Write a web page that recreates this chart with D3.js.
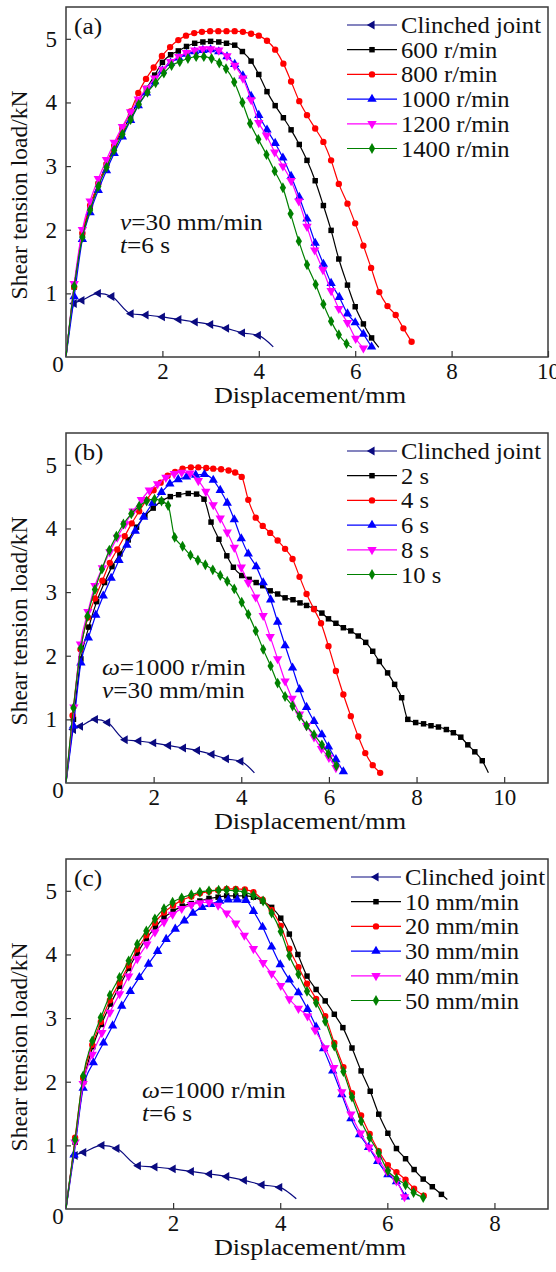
<!DOCTYPE html>
<html>
<head>
<meta charset="utf-8">
<script src="https://d3js.org/d3.v7.min.js"></script>
<style>
body { margin: 0; background: #fff; }
svg text { font-family: "Liberation Serif", "Times New Roman", serif; fill: #111; }
</style>
</head>
<body>
<div id="chart"></div>
<script>
// curves: [displacement mm, load kN]
var clinched = [[0,0.02],[0.17,0.84],[0.33,0.89],[0.67,1.0],[0.95,0.95],[1.35,0.68],[1.66,0.66],[2.0,0.63],[2.34,0.59],[2.68,0.55],[3.0,0.51],[3.33,0.45],[3.66,0.38],[3.99,0.34],[4.3,0.16]];

// (a) rotational speed
var a_600 = [[0,0],[0.17,1.1],[0.34,1.92],[0.5,2.36],[0.67,2.72],[0.84,3.02],[1.0,3.3],[1.17,3.55],[1.34,3.78],[1.5,4.02],[1.67,4.22],[1.84,4.43],[2.0,4.63],[2.17,4.75],[2.33,4.81],[2.5,4.88],[2.67,4.93],[2.84,4.95],[3.0,4.96],[3.17,4.95],[3.33,4.93],[3.5,4.9],[3.66,4.8],[3.84,4.65],[4.0,4.44],[4.17,4.17],[4.34,3.95],[4.51,3.76],[4.67,3.57],[4.84,3.34],[5.0,3.09],[5.17,2.77],[5.34,2.38],[5.5,1.99],[5.66,1.54],[5.84,1.13],[6.0,0.79],[6.17,0.52],[6.34,0.3],[6.49,0.15]];
var a_800 = [[0,0],[0.17,1.1],[0.34,1.95],[0.5,2.38],[0.67,2.72],[0.84,3.03],[1.0,3.32],[1.17,3.6],[1.34,3.86],[1.5,4.15],[1.66,4.37],[1.82,4.55],[1.99,4.73],[2.16,4.87],[2.33,4.98],[2.49,5.05],[2.66,5.09],[2.82,5.11],[2.99,5.12],[3.16,5.12],[3.33,5.12],[3.5,5.12],[3.67,5.11],[3.84,5.08],[4.0,5.05],[4.17,4.97],[4.34,4.83],[4.51,4.61],[4.67,4.33],[4.84,4.02],[5.0,3.8],[5.17,3.59],[5.34,3.38],[5.5,3.09],[5.66,2.72],[5.84,2.41],[6.0,2.1],[6.17,1.75],[6.33,1.4],[6.5,1.02],[6.67,0.8],[6.84,0.66],[7.0,0.45],[7.17,0.24]];
var a_1000 = [[0,0],[0.17,0.95],[0.34,1.85],[0.5,2.27],[0.67,2.62],[0.84,2.93],[1.0,3.2],[1.17,3.46],[1.34,3.72],[1.5,3.95],[1.67,4.15],[1.84,4.33],[2.0,4.5],[2.17,4.62],[2.34,4.7],[2.5,4.76],[2.67,4.8],[2.84,4.82],[3.0,4.83],[3.17,4.8],[3.34,4.72],[3.5,4.6],[3.67,4.42],[3.84,4.1],[4.0,3.8],[4.17,3.57],[4.34,3.36],[4.5,3.13],[4.67,2.84],[4.84,2.51],[5.0,2.17],[5.17,1.79],[5.34,1.46],[5.5,1.16],[5.67,0.94],[5.84,0.68],[6.0,0.54],[6.17,0.36],[6.34,0.16]];
var a_1200 = [[0,0],[0.17,1.15],[0.34,2.0],[0.5,2.45],[0.67,2.8],[0.84,3.1],[1.0,3.37],[1.17,3.62],[1.34,3.85],[1.5,4.05],[1.67,4.22],[1.84,4.38],[2.0,4.52],[2.17,4.64],[2.34,4.72],[2.5,4.78],[2.67,4.82],[2.84,4.84],[3.0,4.84],[3.17,4.82],[3.34,4.73],[3.5,4.58],[3.67,4.38],[3.84,4.04],[4.0,3.68],[4.16,3.48],[4.33,3.22],[4.5,3.0],[4.67,2.77],[4.83,2.45],[5.0,2.05],[5.16,1.68],[5.33,1.37],[5.5,1.04],[5.66,0.76],[5.84,0.54],[6.01,0.29],[6.17,0.14]];
var a_1400 = [[0,0],[0.17,1.11],[0.34,1.88],[0.5,2.31],[0.67,2.68],[0.84,2.98],[1.0,3.25],[1.17,3.5],[1.34,3.73],[1.51,3.97],[1.69,4.16],[1.86,4.31],[2.03,4.46],[2.19,4.58],[2.36,4.64],[2.53,4.69],[2.7,4.72],[2.86,4.72],[3.02,4.69],[3.18,4.62],[3.32,4.53],[3.49,4.32],[3.66,4.0],[3.82,3.67],[3.99,3.42],[4.16,3.18],[4.33,2.92],[4.5,2.66],[4.66,2.25],[4.83,1.82],[5.0,1.45],[5.18,1.14],[5.34,0.83],[5.5,0.56],[5.66,0.35],[5.82,0.21],[5.93,0.15]];

// (b) dwell time
var b_2 = [[0,0],[0.17,1.0],[0.34,1.95],[0.52,2.45],[0.7,2.85],[0.88,3.15],[1.05,3.4],[1.23,3.6],[1.42,3.82],[1.61,4.02],[1.8,4.2],[1.99,4.32],[2.18,4.43],[2.38,4.5],[2.57,4.53],[2.79,4.55],[2.98,4.54],[3.15,4.46],[3.31,4.1],[3.49,3.83],[3.67,3.57],[3.82,3.39],[4.01,3.26],[4.18,3.2],[4.34,3.15],[4.49,3.1],[4.66,3.02],[4.83,2.97],[5.0,2.91],[5.18,2.88],[5.34,2.83],[5.49,2.79],[5.66,2.74],[5.84,2.67],[5.99,2.58],[6.16,2.51],[6.33,2.44],[6.5,2.39],[6.67,2.31],[6.84,2.21],[7.0,2.07],[7.15,1.91],[7.34,1.73],[7.5,1.55],[7.66,1.34],[7.8,1.0],[7.98,0.95],[8.16,0.93],[8.33,0.9],[8.5,0.88],[8.68,0.84],[8.84,0.79],[9.01,0.72],[9.17,0.6],[9.33,0.49],[9.5,0.35],[9.64,0.16]];
var b_4 = [[0,0],[0.15,1.06],[0.33,2.1],[0.5,2.6],[0.66,2.9],[0.83,3.18],[1.0,3.46],[1.17,3.67],[1.34,3.88],[1.5,4.08],[1.67,4.27],[1.84,4.45],[2.0,4.6],[2.16,4.72],[2.32,4.83],[2.49,4.89],[2.66,4.94],[2.85,4.96],[3.02,4.96],[3.2,4.95],[3.36,4.94],[3.54,4.93],[3.71,4.91],[3.86,4.88],[4.01,4.81],[4.16,4.45],[4.33,4.17],[4.49,4.04],[4.66,3.93],[4.83,3.81],[5.0,3.68],[5.17,3.52],[5.33,3.24],[5.49,2.97],[5.66,2.73],[5.82,2.51],[5.99,2.15],[6.16,1.76],[6.33,1.39],[6.5,1.05],[6.67,0.73],[6.83,0.47],[7.0,0.28],[7.17,0.16]];
var b_6 = [[0,0],[0.17,0.9],[0.34,1.89],[0.51,2.28],[0.68,2.64],[0.85,2.94],[1.03,3.22],[1.21,3.5],[1.39,3.74],[1.58,3.96],[1.77,4.18],[1.98,4.4],[2.18,4.57],[2.37,4.7],[2.56,4.77],[2.75,4.81],[2.96,4.84],[3.16,4.85],[3.36,4.76],[3.52,4.6],[3.68,4.4],[3.84,4.14],[4.0,3.84],[4.16,3.6],[4.34,3.4],[4.5,3.15],[4.67,2.88],[4.83,2.53],[5.0,2.16],[5.17,1.81],[5.33,1.47],[5.49,1.19],[5.66,0.97],[5.84,0.76],[5.99,0.57],[6.16,0.37],[6.33,0.18]];
var b_8 = [[0,0],[0.18,1.19],[0.33,2.18],[0.5,2.69],[0.66,3.1],[0.83,3.38],[1.0,3.63],[1.17,3.86],[1.35,4.07],[1.53,4.27],[1.72,4.45],[1.9,4.6],[2.09,4.7],[2.28,4.8],[2.47,4.86],[2.64,4.88],[2.83,4.87],[3.02,4.75],[3.19,4.58],[3.36,4.37],[3.52,4.16],[3.68,3.94],[3.84,3.7],[4.0,3.39],[4.16,3.15],[4.33,2.92],[4.5,2.63],[4.66,2.3],[4.83,1.95],[5.0,1.6],[5.16,1.33],[5.33,1.08],[5.49,0.9],[5.66,0.72],[5.83,0.54],[6.0,0.4],[6.16,0.24]];
var b_10 = [[0,0],[0.17,1.18],[0.34,2.12],[0.49,2.62],[0.66,3.04],[0.82,3.36],[0.99,3.66],[1.15,3.88],[1.31,4.07],[1.49,4.23],[1.67,4.35],[1.84,4.43],[2.02,4.46],[2.18,4.43],[2.33,4.36],[2.48,3.86],[2.66,3.72],[2.84,3.58],[3.01,3.5],[3.18,3.43],[3.35,3.35],[3.52,3.26],[3.68,3.17],[3.84,3.05],[4.01,2.84],[4.16,2.65],[4.33,2.39],[4.5,2.1],[4.67,1.84],[4.83,1.57],[5.0,1.36],[5.17,1.21],[5.33,1.05],[5.49,0.9],[5.66,0.76],[5.84,0.6],[5.99,0.46],[6.17,0.27]];

// (c) plunge speed
var c_10 = [[0,0],[0.17,1.05],[0.33,2.0],[0.5,2.55],[0.66,2.9],[0.83,3.22],[1.0,3.5],[1.17,3.78],[1.33,4.02],[1.5,4.25],[1.67,4.43],[1.83,4.58],[2.0,4.68],[2.17,4.76],[2.34,4.8],[2.5,4.84],[2.67,4.88],[2.84,4.9],[3.0,4.92],[3.17,4.92],[3.34,4.92],[3.5,4.9],[3.67,4.84],[3.84,4.74],[4.01,4.57],[4.17,4.32],[4.33,4.0],[4.5,3.66],[4.67,3.45],[4.84,3.27],[5.01,3.06],[5.17,2.85],[5.34,2.53],[5.51,2.17],[5.68,1.85],[5.84,1.49],[6.01,1.19],[6.17,0.95],[6.34,0.79],[6.5,0.62],[6.67,0.47],[6.84,0.35],[7.01,0.23],[7.12,0.15]];
var c_20 = [[0,0],[0.17,1.12],[0.32,2.06],[0.49,2.58],[0.65,2.94],[0.82,3.28],[1.0,3.56],[1.17,3.83],[1.33,4.08],[1.5,4.3],[1.66,4.5],[1.83,4.66],[2.0,4.77],[2.16,4.85],[2.34,4.91],[2.5,4.96],[2.67,4.99],[2.84,5.01],[3.0,5.03],[3.17,5.03],[3.34,5.02],[3.5,4.98],[3.67,4.86],[3.84,4.7],[4.01,4.45],[4.17,4.09],[4.34,3.8],[4.5,3.54],[4.67,3.3],[4.84,3.03],[5.01,2.61],[5.18,2.23],[5.34,1.82],[5.51,1.47],[5.67,1.18],[5.84,0.91],[6.01,0.69],[6.17,0.58],[6.34,0.46],[6.5,0.32],[6.68,0.21]];
var c_30 = [[0,0],[0.15,0.85],[0.32,1.9],[0.51,2.3],[0.7,2.61],[0.87,2.88],[1.04,3.19],[1.2,3.42],[1.37,3.64],[1.54,3.85],[1.71,4.05],[1.87,4.24],[2.04,4.4],[2.21,4.53],[2.37,4.65],[2.54,4.74],[2.7,4.79],[2.87,4.84],[3.03,4.86],[3.2,4.86],[3.36,4.85],[3.5,4.68],[3.67,4.43],[3.84,4.12],[4.0,3.84],[4.17,3.6],[4.34,3.4],[4.51,3.14],[4.67,2.86],[4.81,2.52],[4.98,2.17],[5.15,1.8],[5.32,1.42],[5.48,1.17],[5.65,0.97],[5.82,0.75],[6.01,0.54],[6.17,0.43],[6.34,0.19]];
var c_40 = [[0,0],[0.17,1.05],[0.32,1.97],[0.49,2.43],[0.67,2.77],[0.82,3.09],[1.0,3.38],[1.17,3.66],[1.33,3.93],[1.51,4.16],[1.66,4.35],[1.83,4.51],[1.99,4.63],[2.16,4.72],[2.34,4.78],[2.5,4.81],[2.67,4.82],[2.84,4.77],[3.0,4.65],[3.17,4.49],[3.33,4.3],[3.5,4.09],[3.68,3.87],[3.84,3.7],[4.01,3.51],[4.17,3.3],[4.34,3.15],[4.51,3.03],[4.65,2.81],[4.84,2.53],[5.0,2.22],[5.15,1.84],[5.32,1.49],[5.5,1.19],[5.66,0.97],[5.83,0.78],[5.99,0.59],[6.17,0.44],[6.32,0.19]];
var c_50 = [[0,0],[0.17,1.09],[0.32,2.09],[0.49,2.64],[0.65,3.01],[0.82,3.36],[1.0,3.64],[1.17,3.9],[1.33,4.16],[1.5,4.37],[1.66,4.56],[1.83,4.72],[1.99,4.82],[2.16,4.89],[2.34,4.94],[2.5,4.98],[2.67,5.0],[2.85,5.01],[3.0,5.01],[3.17,5.0],[3.33,4.98],[3.5,4.93],[3.68,4.84],[3.84,4.65],[4.01,4.36],[4.17,3.98],[4.34,3.69],[4.5,3.42],[4.67,3.24],[4.84,2.95],[5.01,2.56],[5.18,2.16],[5.34,1.76],[5.51,1.38],[5.67,1.12],[5.84,0.88],[6.01,0.6],[6.17,0.48],[6.34,0.38],[6.49,0.26],[6.67,0.18]];

// legend entries
var legend_a = ["Clinched joint", "600 r/min", "800 r/min", "1000 r/min", "1200 r/min", "1400 r/min"];
var legend_b = ["Clinched joint", "2 s", "4 s", "6 s", "8 s", "10 s"];
var legend_c = ["Clinched joint", "10 mm/min", "20 mm/min", "30 mm/min", "40 mm/min", "50 mm/min"];

// ticks
var x_ticks_a = [2, 4, 6, 8, 10];
var x_ticks_b = [2, 4, 6, 8, 10];
var x_ticks_c = [2, 4, 6, 8];
var y_ticks = [1, 2, 3, 4, 5];

// curves that end in a bare line, not on a marker
var tail_end = ["Clinched joint", "600 r/min", "1400 r/min", "2 s", "10 mm/min"];

var colors = ["#0a0a80", "#000000", "#ff0000", "#0000ff", "#ff00ff", "#008000"];
var symbols = [
    {type: d3.symbolTriangle, size: 34, rot: -90},
    {type: d3.symbolSquare, size: 30, rot: 0},
    {type: d3.symbolCircle, size: 32, rot: 0},
    {type: d3.symbolTriangle, size: 38, rot: 0},
    {type: d3.symbolTriangle, size: 38, rot: 180},
    {type: d3.symbolDiamond, size: 34, rot: 0}
];

var panels = [
    {tag: "(a)", top: 7, xmax: 10, xticks: x_ticks_a, series: [clinched, a_600, a_800, a_1000, a_1200, a_1400], names: legend_a,
     note: [["v", "=30 mm/min"], ["t", "=6 s"]], note_x: 54, note_y: 223, legend_dx: 0},
    {tag: "(b)", top: 433, xmax: 11, xticks: x_ticks_b, series: [clinched, b_2, b_4, b_6, b_8, b_10], names: legend_b,
     note: [["\u03c9", "=1000 r/min"], ["v", "=30 mm/min"]], note_x: 36, note_y: 242, legend_dx: 0},
    {tag: "(c)", top: 859, xmax: 9, xticks: x_ticks_c, series: [clinched, c_10, c_20, c_30, c_40, c_50], names: legend_c,
     note: [["\u03c9", "=1000 r/min"], ["t", "=6 s"]], note_x: 76, note_y: 239, legend_dx: 4}
];

var margin = {left: 66};
var width = 482;
var height = 350;

// the printed type is a little wide, so horizontal text gets a small x stretch
var fs = 23;
var fs_ytitle = 23.5;
var sx_xtitle = 1.14;
var sx_legend = 1.07;
var sx_note = 1.1;

var svg = d3.select("#chart")
    .append("svg")
    .attr("width", 556)
    .attr("height", 1272);

function wide_text(parent, x, y, sx, anchor) {
    return parent.append("text")
        .attr("transform", "translate(" + x + "," + y + ") scale(" + sx + ",1)")
        .attr("text-anchor", anchor || "start")
        .attr("font-size", fs);
}

panels.forEach(function(p) {
    var g = svg.append("g")
        .attr("transform", "translate(" + margin.left + "," + p.top + ")");

    var x = d3.scaleLinear().domain([0, p.xmax]).range([0, width]);
    var y = d3.scaleLinear().domain([0, 5.5]).range([height, 0]);

    // x axis, ticks pointing in
    var xa = g.append("g")
        .attr("transform", "translate(0," + height + ")")
        .call(d3.axisBottom(x).tickValues(p.xticks).tickSizeInner(-6).tickSizeOuter(0).tickPadding(6).tickFormat(d3.format("d")));
    xa.select(".domain").remove();
    xa.selectAll("line").attr("stroke", "#333").attr("stroke-width", 1.2);
    xa.selectAll("text").attr("font-size", fs).attr("fill", "#111");

    // y axis
    var ya = g.append("g")
        .call(d3.axisLeft(y).tickValues(y_ticks).tickSizeInner(-5).tickSizeOuter(0).tickPadding(9).tickFormat(d3.format("d")));
    ya.select(".domain").remove();
    ya.selectAll("line").attr("stroke", "#333").attr("stroke-width", 1.2);
    ya.selectAll("text").attr("font-size", fs).attr("fill", "#111");

    // shared zero in the corner
    g.append("text")
        .attr("x", -8)
        .attr("y", height + 15)
        .attr("text-anchor", "middle")
        .attr("font-size", fs)
        .text("0");

    // frame
    g.append("rect")
        .attr("width", width)
        .attr("height", height)
        .attr("fill", "none")
        .attr("stroke", "#3a3a3a")
        .attr("stroke-width", 1.5);

    // axis titles
    wide_text(g, width / 2 + 3, height + 46, sx_xtitle, "middle")
        .text("Displacement/mm");

    g.append("text")
        .attr("transform", "translate(-39," + (height / 2 + 13) + ") rotate(-90)")
        .attr("text-anchor", "middle")
        .attr("font-size", fs_ytitle)
        .text("Shear tension load/kN");

    // panel tag
    wide_text(g, 8, 27, sx_note).text(p.tag);

    // process parameters
    p.note.forEach(function(n, i) {
        var t = wide_text(g, p.note_x, p.note_y + i * 23, sx_note);
        t.append("tspan").attr("font-style", "italic").text(n[0]);
        t.append("tspan").text(n[1]);
    });

    var line = d3.line()
        .x(function(d) { return x(d[0]); })
        .y(function(d) { return y(d[1]); })
        .curve(d3.curveMonotoneX);

    // curves with markers
    p.series.forEach(function(s, i) {
        var sg = g.append("g");
        sg.append("path")
            .attr("d", line(s))
            .attr("fill", "none")
            .attr("stroke", colors[i])
            .attr("stroke-width", 1.2)
            .attr("stroke-linejoin", "round");

        var last = tail_end.indexOf(p.names[i]) >= 0 ? s.length - 1 : s.length;
        var pts = s.slice(1, last);
        sg.selectAll("path.mk")
            .data(pts)
            .enter()
            .append("path")
            .attr("class", "mk")
            .attr("d", d3.symbol().type(symbols[i].type).size(symbols[i].size))
            .attr("transform", function(d) { return "translate(" + x(d[0]) + "," + y(d[1]) + ") rotate(" + symbols[i].rot + ")"; })
            .attr("fill", colors[i]);
    });

    // legend
    var lg = g.append("g")
        .attr("transform", "translate(" + (281 + p.legend_dx) + ",18)");
    p.names.forEach(function(name, i) {
        var row = lg.append("g").attr("transform", "translate(0," + (i * 24.7) + ")");
        row.append("line")
            .attr("x1", 0).attr("x2", 50)
            .attr("stroke", colors[i])
            .attr("stroke-width", 1.2);
        row.append("path")
            .attr("d", d3.symbol().type(symbols[i].type).size(symbols[i].size))
            .attr("transform", "translate(25,0) rotate(" + symbols[i].rot + ")")
            .attr("fill", colors[i]);
        wide_text(row, 54, 0, sx_legend)
            .attr("dy", "0.35em")
            .text(name);
    });
});
</script>
</body>
</html>
